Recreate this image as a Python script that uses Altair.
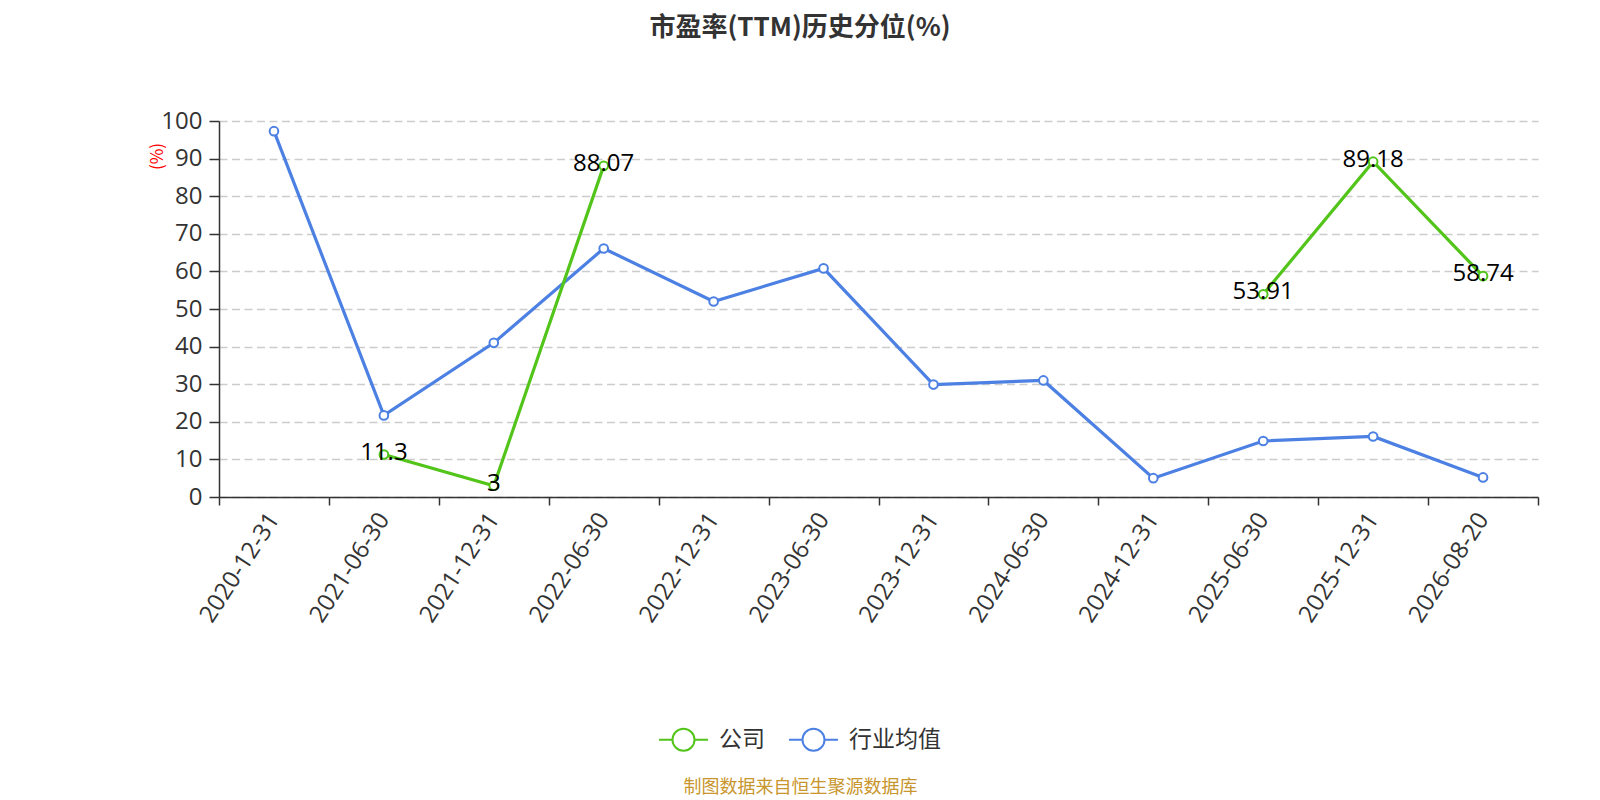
import altair as alt
import pandas as pd

dates = ["2020-12-31", "2021-06-30", "2021-12-31", "2022-06-30", "2022-12-31", "2023-06-30",
         "2023-12-31", "2024-06-30", "2024-12-31", "2025-06-30", "2025-12-31", "2026-08-20"]
company = [None, 11.3, 3, 88.07, None, None, None, None, None, 53.91, 89.18, 58.74]
industry = [97.3, 21.7, 41.0, 66.1, 52.0, 60.8, 29.9, 31.0, 5.0, 14.9, 16.1, 5.2]
series_names = ["公司", "行业均值"]
series_colors = ["#52C41A", "#4C80E2"]

FONT = "Noto Sans CJK SC"
NUMFONT = "Open Sans"

rows = []
for name, vals in [("行业均值", industry), ("公司", company)]:
    seg = 0
    prev_none = True
    for d, v in zip(dates, vals):
        if v is None:
            prev_none = True
            continue
        if prev_none:
            seg += 1
        prev_none = False
        rows.append({"date": d, "value": v, "series": name, "seg": f"{name}-{seg}",
                     "label": f"{v:g}"})
df = pd.DataFrame(rows)

legend_path = ("M-1,0L-0.45,0M0.45,0L1,0M0.45,0A0.45,0.45,0,1,1,-0.45,0"
               "A0.45,0.45,0,1,1,0.45,0Z")

x_enc = alt.X("date:O", sort=dates,
              scale=alt.Scale(domain=dates, paddingInner=0, paddingOuter=0),
              axis=alt.Axis(labelAngle=-57, labelAlign="right", labelBaseline="middle",
                            labelFontSize=24, labelColor="#333", labelFont=NUMFONT,
                            labelPadding=10, tickSize=8, tickBand="extent",
                            tickColor="#333", tickWidth=1.5, domainColor="#333",
                            domainWidth=1.5, grid=False,
                            title="制图数据来自恒生聚源数据库", titleX=581, titleY=290,
                            titleColor="#C8962D", titleFontSize=18, titleFontWeight="normal",
                            titleFont=FONT, titleAlign="center", titleBaseline="middle"))
y_enc = alt.Y("value:Q", scale=alt.Scale(domain=[0, 100], nice=False),
              axis=alt.Axis(values=list(range(0, 101, 10)), labelFontSize=24,
                            labelColor="#333", labelFont=NUMFONT, labelPadding=7,
                            tickSize=10, tickColor="#333", tickWidth=1.5,
                            domainColor="#333", domainWidth=1.5,
                            gridColor="#CCCCCC", gridDash=[8, 4.5], gridWidth=1.3,
                            title="(%)", titleColor="#FF0000", titleFontSize=17,
                            titleFontWeight="normal", titleFont=FONT, titleAngle=-90,
                            titleX=-62, titleY=35, titleAlign="center",
                            titleBaseline="middle"))
color_enc = alt.Color("series:N",
                      scale=alt.Scale(domain=series_names, range=series_colors),
                      legend=alt.Legend(orient="none", legendX=439, legendY=593,
                                        direction="horizontal", title=None,
                                        symbolType=legend_path, symbolSize=2401,
                                        symbolStrokeWidth=2, symbolFillColor="white",
                                        labelFontSize=23, labelColor="#333",
                                        labelFont=FONT, labelOffset=10,
                                        columnPadding=20, padding=0))

base = alt.Chart(df)
lines = base.mark_line(strokeWidth=3.2).encode(x=x_enc, y=y_enc, color=color_enc,
                                                detail="seg:N")
points = base.mark_point(filled=False, fill="white", fillOpacity=1, opacity=1,
                         size=75, strokeWidth=2).encode(x=x_enc, y=y_enc, color=color_enc)
labels = base.transform_filter(alt.datum.series == "公司").mark_text(
    fontSize=24, font=NUMFONT, color="#000", baseline="middle", align="center", dy=-2
).encode(x=x_enc, y=y_enc, text="label:N")

chart = alt.layer(lines, points, labels).properties(
    width=1319, height=376,
    padding={"left": 211, "top": 113, "right": 54, "bottom": 301},
    autosize=alt.AutoSizeParams(type="none"),
    title=alt.TitleParams("市盈率(TTM)历史分位(%)", fontSize=26, fontWeight="bold",
                          color="#333", font=FONT, anchor="middle", dx=-78.5,
                          offset=42, frame="group", baseline="bottom"),
).configure_view(stroke=None)

chart.save("out.html", embed_options={"renderer": "svg", "actions": False})
